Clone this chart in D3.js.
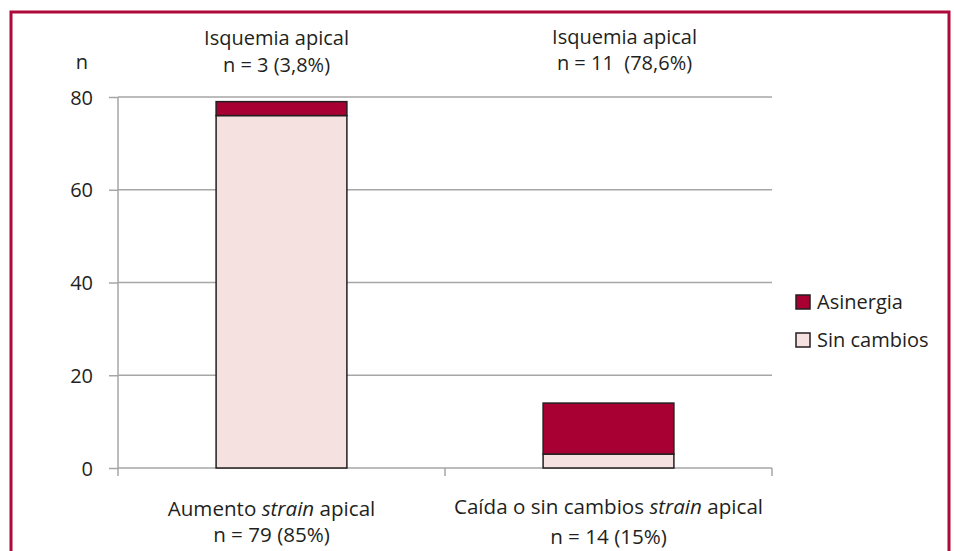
<!DOCTYPE html>
<html>
<head>
<meta charset="utf-8">
<script src="https://cdn.jsdelivr.net/npm/d3@7"></script>
<style>
    html, body { margin: 0; padding: 0; background: #fff; }
    svg { display: block; font-family: "Open Sans", sans-serif; }
    .label { fill: #231f20; font-size: 20px; white-space: pre; }
    .label--bottom { font-size: 20.6px; }
</style>
</head>
<body>
<svg id="chart" width="954" height="551"></svg>
<script>
var categories  = ['Aumento strain apical', 'Caída o sin cambios strain apical'];
var sinCambios  = [76, 3];
var asinergia   = [3, 11];
var topLabels   = [['Isquemia apical', 'n = 3 (3,8%)'], ['Isquemia apical', 'n = 11  (78,6%)']];
var bottomNs    = ['n = 79 (85%)', 'n = 14 (15%)'];
var yTicks      = [0, 20, 40, 60, 80];

var layout = {
    frame:  { x: 11, y: 12, width: 938, color: '#ad0a3b' },
    plot:   { left: 118, right: 772, top: 97, bottom: 468 },
    // desplazamiento de los textos respecto al centro de cada banda
    top:    { shift: [-5, 16], y: [45, 44], dy: [27, 26] },
    bottom: { shift: [-10, 0], y: [516, 514], ny: [542, 544] },
    colors: { asinergia: '#a80033', sinCambios: '#f5e1df', outline: '#231f20', grid: '#a6a6a6' }
};

var svg = d3.select('#chart');

// marco
svg.append('path')
    .attr('d', `M${ layout.frame.x },551 V${ layout.frame.y } H${ layout.frame.x + layout.frame.width } V551`)
    .attr('fill', 'none')
    .attr('stroke', layout.frame.color)
    .attr('stroke-width', 3)
;

var x = d3.scaleBand()
    .domain(categories)
    .range([layout.plot.left, layout.plot.right])
    .paddingInner(0)
    .paddingOuter(0)
;

var y = d3.scaleLinear()
    .domain([0, 80])
    .range([layout.plot.bottom, layout.plot.top])
;

var barWidth = x.bandwidth() * 0.4;
var center = d => x(d) + x.bandwidth() / 2;

// eje y
var yAxis = svg.append('g')
    .attr('transform', `translate(${ layout.plot.left }, 0)`)
    .call(d3.axisLeft(y).tickValues(yTicks).tickSize(9).tickPadding(16))
;
yAxis.attr('font-size', null).attr('font-family', null);
yAxis.select('.domain').remove();
yAxis.selectAll('.tick line').attr('stroke', layout.colors.grid).attr('stroke-width', 1.5);
yAxis.selectAll('.tick text')
    .attr('class', 'label')
    .attr('fill', null)
    .attr('dy', '0.36em')
;

// rejilla
svg.append('g')
    .selectAll('line')
    .data(yTicks)
    .enter().append('line')
        .attr('x1', layout.plot.left)
        .attr('x2', layout.plot.right)
        .attr('y1', d => y(d))
        .attr('y2', d => y(d))
        .attr('stroke', layout.colors.grid)
        .attr('stroke-width', 1.5)
;

svg.append('line')
    .attr('x1', layout.plot.left).attr('x2', layout.plot.left)
    .attr('y1', y(80)).attr('y2', y(0) + 8)
    .attr('stroke', layout.colors.grid)
    .attr('stroke-width', 1.5)
;

// ticks del eje x entre categorías
svg.append('g')
    .selectAll('line')
    .data(categories.slice(1).concat([null]))
    .enter().append('line')
        .attr('x1', d => d ? x(d) : x.range()[1])
        .attr('x2', d => d ? x(d) : x.range()[1])
        .attr('y1', y(0))
        .attr('y2', y(0) + 8)
        .attr('stroke', layout.colors.grid)
        .attr('stroke-width', 1.5)
;

// barras apiladas
var rows = categories.map((c, i) => ({ category: c, sinCambios: sinCambios[i], asinergia: asinergia[i] }));
var stack = d3.stack().keys(['sinCambios', 'asinergia'])(rows);

svg.append('g')
    .selectAll('g')
    .data(stack)
    .enter().append('g')
        .attr('fill', s => layout.colors[s.key])
        .selectAll('rect')
        .data(s => s)
        .enter().append('rect')
            .attr('x', d => x(d.data.category) + (x.bandwidth() - barWidth) / 2)
            .attr('y', d => y(d[1]))
            .attr('width', barWidth)
            .attr('height', d => y(d[0]) - y(d[1]))
            .attr('stroke', layout.colors.outline)
            .attr('stroke-width', 1.5)
;

// etiqueta "n"
svg.append('text')
    .attr('class', 'label')
    .attr('x', 82)
    .attr('y', 69)
    .attr('text-anchor', 'middle')
    .text('n')
;

// anotaciones superiores
var tops = svg.append('g')
    .selectAll('text')
    .data(topLabels)
    .enter().append('text')
        .attr('class', 'label')
        .attr('text-anchor', 'middle')
        .attr('x', (d, i) => center(categories[i]) + layout.top.shift[i])
        .attr('y', (d, i) => layout.top.y[i])
;
tops.append('tspan').text(d => d[0]);
tops.append('tspan')
    .attr('x', (d, i) => center(categories[i]) + layout.top.shift[i])
    .attr('dy', (d, i) => layout.top.dy[i])
    .text(d => d[1])
;

// etiquetas inferiores con "strain" en cursiva
var bottoms = svg.append('g')
    .selectAll('text')
    .data(categories)
    .enter().append('text')
        .attr('class', 'label label--bottom')
        .attr('text-anchor', 'middle')
        .attr('x', (d, i) => center(d) + layout.bottom.shift[i])
        .attr('y', (d, i) => layout.bottom.y[i])
;
bottoms.each(function (d) {
    var _this = d3.select(this);
    var parts = d.split('strain');

    _this.append('tspan').text(parts[0]);
    _this.append('tspan').attr('font-style', 'italic').text('strain');
    _this.append('tspan').text(parts[1]);
});

svg.append('g')
    .selectAll('text')
    .data(bottomNs)
    .enter().append('text')
        .attr('class', 'label label--bottom')
        .attr('text-anchor', 'middle')
        .attr('x', (d, i) => center(categories[i]) + layout.bottom.shift[i])
        .attr('y', (d, i) => layout.bottom.ny[i])
        .text(d => d)
;

// leyenda
var legendItems = [
    { key: 'asinergia',  label: 'Asinergia' },
    { key: 'sinCambios', label: 'Sin cambios' }
];

var legend = svg.append('g')
    .selectAll('g')
    .data(legendItems)
    .enter().append('g')
        .attr('transform', (d, i) => `translate(796, ${ 295 + i * 38 })`)
;
legend.append('rect')
    .attr('width', 14)
    .attr('height', 14)
    .attr('fill', d => layout.colors[d.key])
    .attr('stroke', layout.colors.outline)
    .attr('stroke-width', 1.5)
;
legend.append('text')
    .attr('class', 'label')
    .attr('x', 21)
    .attr('y', 14)
    .text(d => d.label)
;
</script>
</body>
</html>
